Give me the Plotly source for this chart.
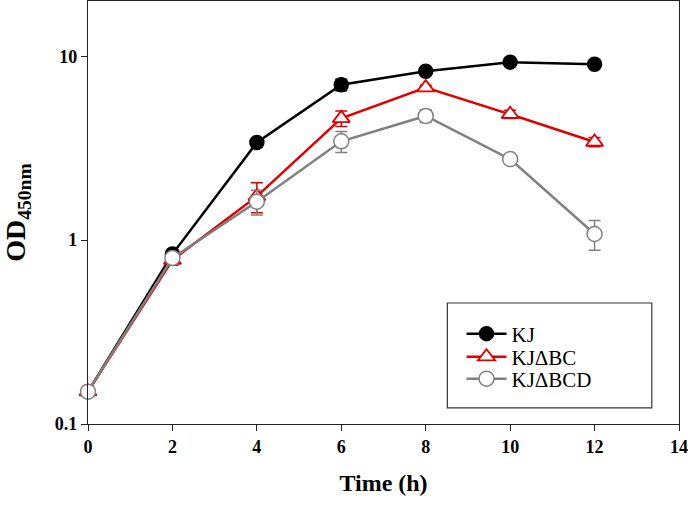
import plotly.graph_objects as go

time_h = [0, 2, 4, 6, 8, 10, 12]
kj = [0.15, 0.84, 3.4, 7.0, 8.3, 9.3, 9.05]
kj_err = [0.005, 0.04, 0.2, 0.5, 0.3, 0.2, 0.2]
kjbc = [0.15, 0.78, 1.73, 4.6, 6.76, 4.84, 3.42]
kjbc_err = [0.005, 0.05, 0.32, 0.45, 0.2, 0.25, 0.2]
kjbcd = [0.15, 0.80, 1.62, 3.45, 4.74, 2.76, 1.08]
kjbcd_err = [0.005, 0.03, 0.25, 0.45, 0.38, 0.1, 0.2]

names = ["KJ", "KJΔBC", "KJΔBCD"]
ys = [kj, kjbc, kjbcd]
errs = [kj_err, kjbc_err, kjbcd_err]
colors = ["#000000", "#e00000", "#808080"]
legend_ids = ["legend", "legend2", "legend3"]
legend_rows = [0.2128, 0.1584, 0.1064]

font_family = "Liberation Serif, Times New Roman, serif"

fig = go.Figure()
for name, y, e, c, lg in zip(names, ys, errs, colors, legend_ids):
    if name == "KJ":
        marker = dict(symbol="circle", size=14, color=c, line=dict(color=c, width=1.5))
    elif name == "KJΔBC":
        marker = dict(symbol="triangle-up", size=15, color="white", line=dict(color=c, width=1.8))
    else:
        marker = dict(symbol="circle", size=15, color="white", line=dict(color=c, width=1.5))
    fig.add_trace(go.Scatter(
        x=time_h, y=y, name=name, mode="lines+markers",
        line=dict(color=c, width=2.5),
        marker=marker,
        error_y=dict(type="data", array=e, visible=True, color=c, thickness=1.5, width=6),
        cliponaxis=False, legend=lg,
    ))

legend_common = dict(
    xanchor="left", yanchor="middle", borderwidth=0, bgcolor="rgba(0,0,0,0)",
    font=dict(family=font_family, size=21, color="#000"), itemwidth=40,
)
layout_legends = {}
for lg, yrow in zip(legend_ids, legend_rows):
    layout_legends[lg] = dict(x=0.632, y=yrow, **legend_common)

pl, pr, pt, pb = 88, 9, 1, 84
fig.update_layout(
    width=688, height=508,
    margin=dict(l=pl, r=pr, t=pt, b=pb, autoexpand=False),
    paper_bgcolor="white", plot_bgcolor="white",
    font=dict(family=font_family, color="#000"),
    showlegend=True,
    shapes=[dict(type="rect", xref="paper", yref="paper",
                 x0=0.608, x1=0.954, y0=0.038, y1=0.286,
                 line=dict(color="#333", width=1.2), fillcolor="white", layer="below")],
    xaxis=dict(
        range=[0, 14], tickmode="array", tickvals=[0, 2, 4, 6, 8, 10, 12, 14],
        showline=True, linecolor="#222", linewidth=1.2, mirror=True,
        ticks="outside", ticklen=6, tickcolor="#222", tickwidth=1.2,
        showgrid=False, zeroline=False, automargin=False,
        tickfont=dict(family=font_family, size=18, color="#000", weight="bold"),
        title=dict(text="<b>Time (h)</b>", font=dict(family=font_family, size=24), standoff=18),
    ),
    yaxis=dict(
        type="log", range=[-1, 1.301], tickmode="array", tickvals=[0.1, 1, 10],
        ticktext=["0.1", "1", "10"],
        showline=True, linecolor="#222", linewidth=1.2, mirror=True,
        ticks="outside", ticklen=6, tickcolor="#222", tickwidth=1.2,
        showgrid=False, zeroline=False, automargin=False,
        tickfont=dict(family=font_family, size=18, color="#000", weight="bold"),
        title=dict(text="<b>OD<sub>450nm</sub></b>", font=dict(family=font_family, size=28), standoff=20),
    ),
    **layout_legends,
)
fig.write_html("out.html", config={"displayModeBar": False},
               post_script="document.body.style.margin='0';document.body.style.padding='0';")
